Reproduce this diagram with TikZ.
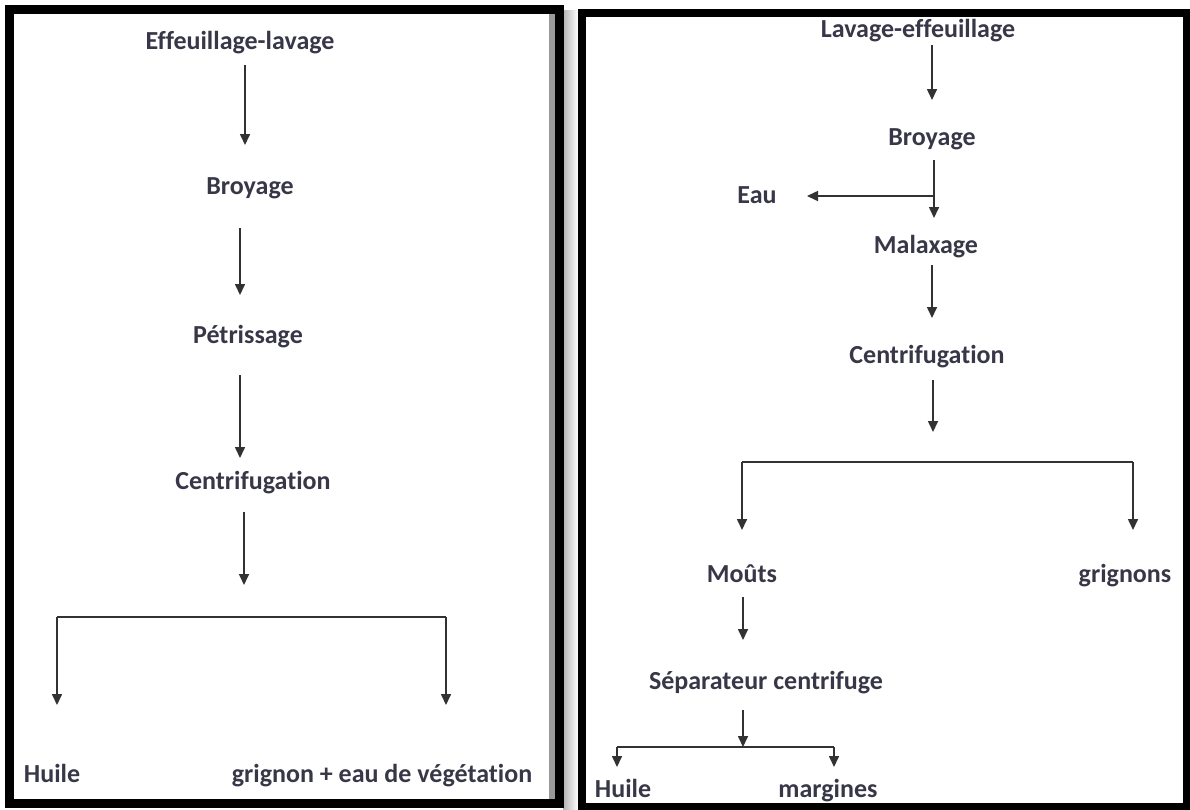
\documentclass[tikz,border=0pt]{standalone}
\usepackage{fontspec}
\setmainfont{Carlito}[Ligatures=NoCommon]
\usetikzlibrary{arrows.meta}
\definecolor{txtgray}{RGB}{55,55,72}
\definecolor{linegray}{RGB}{50,50,50}
\tikzset{
  lstep/.style={font=\fontsize{26pt}{32pt}\selectfont\bfseries, text=txtgray, inner sep=0pt},
  rstep/.style={lstep, font=\fontsize{26pt}{32pt}\selectfont\bfseries},
  flow/.style={-{Triangle[length=11pt,width=10pt]}, line width=1.6pt, draw=linegray},
  bar/.style={line width=1.6pt, draw=linegray},
  frame/.style={draw=black, line width=9pt},
}
\begin{document}
\begin{tikzpicture}[x=1pt,y=-1pt]
    \useasboundingbox (0,0) rectangle (1190,809);
    % frames and shadow
    \fill[black!40] (549,13) rectangle (555,799);
    \shade[left color=black!30, right color=white] (563,10) rectangle (578,809);
    \draw[frame] (9.5,9) rectangle (559,803.5);
    \draw[frame, line width=8pt] (582,13) rectangle (1187,807);
    % left chart
    \node[lstep] (leff) at (240,43) {Effeuillage-lavage};
    \node[lstep] (lbroy) at (250,188) {Broyage};
    \node[lstep] (lpet) at (248,337) {Pétrissage};
    \node[lstep] (lcent) at (253,483) {Centrifugation};
    \node[lstep, anchor=base] (lhuile) at (52,782) {Huile};
    \node[lstep, anchor=base] (lgrig) at (382,782) {grignon + eau de végétation};
    \coordinate (la1) at (245,65);  \coordinate (la2) at (245,145);
    \coordinate (lb1) at (240,228); \coordinate (lb2) at (240,295);
    \coordinate (lc1) at (240,375); \coordinate (lc2) at (240,458);
    \coordinate (ld1) at (244,512); \coordinate (ld2) at (244,585);
    \coordinate (lsl) at (57,617);  \coordinate (lsr) at (446,617);
    \coordinate (lhl) at (57,705);  \coordinate (lhr) at (446,705);
    \draw[flow] (la1) -- (la2);
    \draw[flow] (lb1) -- (lb2);
    \draw[flow] (lc1) -- (lc2);
    \draw[flow] (ld1) -- (ld2);
    \draw[bar] (lsl) -- (lsr);
    \draw[flow] (lsl) -- (lhl);
    \draw[flow] (lsr) -- (lhr);
    % right chart
    \node[rstep] (reff) at (918,31) {Lavage-effeuillage};
    \node[rstep] (rbroy) at (932,139) {Broyage};
    \node[rstep] (reau) at (757,195) {Eau};
    \node[rstep] (rmal) at (926,247) {Malaxage};
    \node[rstep] (rcent) at (927,357) {Centrifugation};
    \node[rstep, anchor=base] (rmouts) at (742,582) {Moûts};
    \node[rstep, anchor=base] (rgrig) at (1125,582) {grignons};
    \node[rstep] (rsep) at (766,683) {Séparateur centrifuge};
    \node[rstep, anchor=base] (rhuile) at (623,797) {Huile};
    \node[rstep, anchor=base] (rmarg) at (828,797) {margines};
    \coordinate (ra1) at (932,45);  \coordinate (ra2) at (932,100);
    \coordinate (rb1) at (934,160); \coordinate (rb2) at (934,218);
    \coordinate (rbe) at (934,196); \coordinate (reauend) at (807,196);
    \coordinate (rc1) at (932,265); \coordinate (rc2) at (932,318);
    \coordinate (rd1) at (933,380); \coordinate (rd2) at (933,432);
    \coordinate (rsl) at (742,462); \coordinate (rsr) at (1133,462);
    \coordinate (rml) at (742,530); \coordinate (rmr) at (1133,530);
    \coordinate (re1) at (743,597); \coordinate (re2) at (743,640);
    \coordinate (rf1) at (743,710); \coordinate (rf2) at (743,747);
    \coordinate (rtl) at (617,747); \coordinate (rtr) at (834,747);
    \coordinate (rhl) at (617,767); \coordinate (rhr) at (834,767);
    \draw[flow] (ra1) -- (ra2);
    \draw[flow] (rb1) -- (rb2);
    \draw[flow] (rbe) -- (reauend);
    \draw[flow] (rc1) -- (rc2);
    \draw[flow] (rd1) -- (rd2);
    \draw[bar] (rsl) -- (rsr);
    \draw[flow] (rsl) -- (rml);
    \draw[flow] (rsr) -- (rmr);
    \draw[flow] (re1) -- (re2);
    \draw[flow] (rf1) -- (rf2);
    \draw[bar] (rtl) -- (rtr);
    \draw[flow] (rtl) -- (rhl);
    \draw[flow] (rtr) -- (rhr);
  \end{tikzpicture}
\end{document}
